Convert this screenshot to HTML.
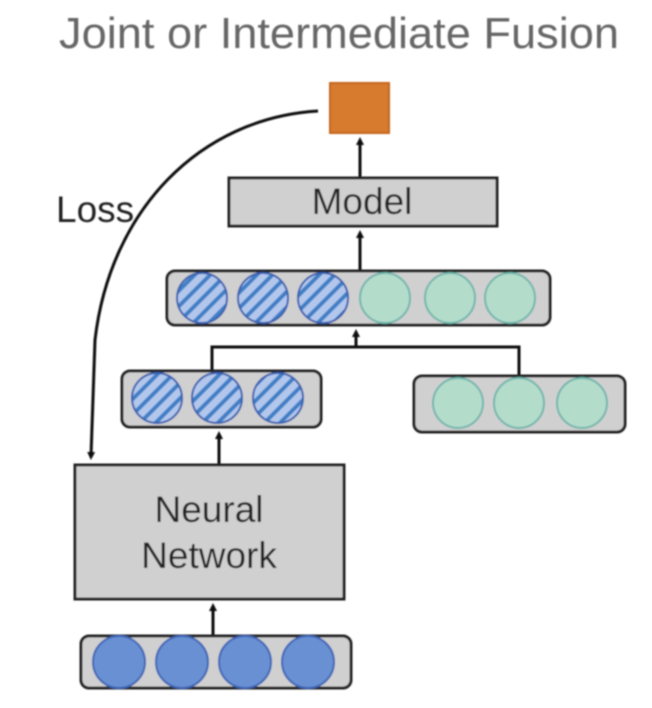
<!DOCTYPE html>
<html><head><meta charset="utf-8"><style>html,body{margin:0;padding:0;background:#fff;width:652px;height:708px;overflow:hidden}</style></head>
<body>
<svg width="652" height="708" viewBox="0 0 652 708" xmlns="http://www.w3.org/2000/svg" font-family="Liberation Sans, Arial, sans-serif">
<defs>
<pattern id="h" patternUnits="userSpaceOnUse" width="11" height="11" patternTransform="rotate(45)">
<rect width="11" height="11" fill="#b3c7ec"/>
<rect x="0" y="0" width="4" height="11" fill="#3f7fc6"/>
</pattern>
<filter id="b"><feGaussianBlur stdDeviation="0.7"/></filter>
<marker id="a" markerWidth="8" markerHeight="8" refX="4" refY="4" orient="auto" markerUnits="userSpaceOnUse" viewBox="0 0 8 8"><path d="M0,0 L8,4 L0,8 z" fill="#111"/></marker>
</defs>
<g filter="url(#b)">
<text x="59" y="48" font-size="44" fill="#666" textLength="560" lengthAdjust="spacingAndGlyphs">Joint or Intermediate Fusion</text>

<!-- orange output -->
<rect x="330" y="83" width="59" height="50" fill="#d77b2e" stroke="#c4651f" stroke-width="2"/>

<!-- loss curve -->
<path d="M318,111 C200,118 110,210 95,340 L91,456" fill="none" stroke="#111" stroke-width="3" marker-end="url(#a)"/>
<text x="56" y="222" font-size="37" fill="#222">Loss</text>

<!-- model -->
<line x1="360" y1="177" x2="360" y2="141" stroke="#111" stroke-width="3" marker-end="url(#a)"/>
<rect x="229" y="178" width="268" height="48" fill="#d0d0d0" stroke="#222" stroke-width="3"/>
<text x="362" y="214" font-size="37" fill="#222" text-anchor="middle">Model</text>

<line x1="360" y1="270" x2="360" y2="234" stroke="#111" stroke-width="3" marker-end="url(#a)"/>
<rect x="167" y="271" width="383" height="54" rx="8" fill="#d0d0d0" stroke="#222" stroke-width="3"/>
<g stroke-width="2">
<circle cx="202" cy="298" r="25" fill="url(#h)" stroke="#3a5fb0"/>
<circle cx="263" cy="298" r="25" fill="url(#h)" stroke="#3a5fb0"/>
<circle cx="323" cy="298" r="25" fill="url(#h)" stroke="#3a5fb0"/>
<circle cx="385" cy="298" r="25" fill="#b4dccb" stroke="#72b6ac"/>
<circle cx="450" cy="298" r="25" fill="#b4dccb" stroke="#72b6ac"/>
<circle cx="510" cy="298" r="25" fill="#b4dccb" stroke="#72b6ac"/>
</g>

<!-- bracket -->
<path d="M212,370 L212,347 L519,347 L519,375" fill="none" stroke="#111" stroke-width="3"/>
<line x1="356" y1="347" x2="356" y2="333" stroke="#111" stroke-width="3" marker-end="url(#a)"/>

<rect x="122" y="371" width="199" height="56" rx="8" fill="#d0d0d0" stroke="#222" stroke-width="3"/>
<g stroke-width="2">
<circle cx="157" cy="398" r="25" fill="url(#h)" stroke="#3a5fb0"/>
<circle cx="217" cy="398" r="25" fill="url(#h)" stroke="#3a5fb0"/>
<circle cx="278" cy="398" r="25" fill="url(#h)" stroke="#3a5fb0"/>
</g>

<rect x="414" y="376" width="211" height="56" rx="8" fill="#d0d0d0" stroke="#222" stroke-width="3"/>
<g stroke-width="2">
<circle cx="458" cy="403" r="25" fill="#b4dccb" stroke="#72b6ac"/>
<circle cx="519" cy="403" r="25" fill="#b4dccb" stroke="#72b6ac"/>
<circle cx="582" cy="403" r="25" fill="#b4dccb" stroke="#72b6ac"/>
</g>

<!-- NN -->
<line x1="219" y1="464" x2="219" y2="435" stroke="#111" stroke-width="3" marker-end="url(#a)"/>
<rect x="75" y="465" width="269" height="134" fill="#d0d0d0" stroke="#222" stroke-width="3"/>
<text x="209" y="522" font-size="37" fill="#222" text-anchor="middle">Neural</text>
<text x="209" y="568" font-size="37" fill="#222" text-anchor="middle">Network</text>

<line x1="213" y1="635" x2="213" y2="607" stroke="#111" stroke-width="3" marker-end="url(#a)"/>
<rect x="81" y="636" width="270" height="52" rx="8" fill="#d0d0d0" stroke="#222" stroke-width="3"/>
<g stroke-width="2" fill="#6990d3" stroke="#3f65b6">
<circle cx="119" cy="662" r="26"/>
<circle cx="182" cy="662" r="26"/>
<circle cx="245" cy="662" r="26"/>
<circle cx="308" cy="662" r="26"/>
</g>
</g>
</svg>
</body></html>
